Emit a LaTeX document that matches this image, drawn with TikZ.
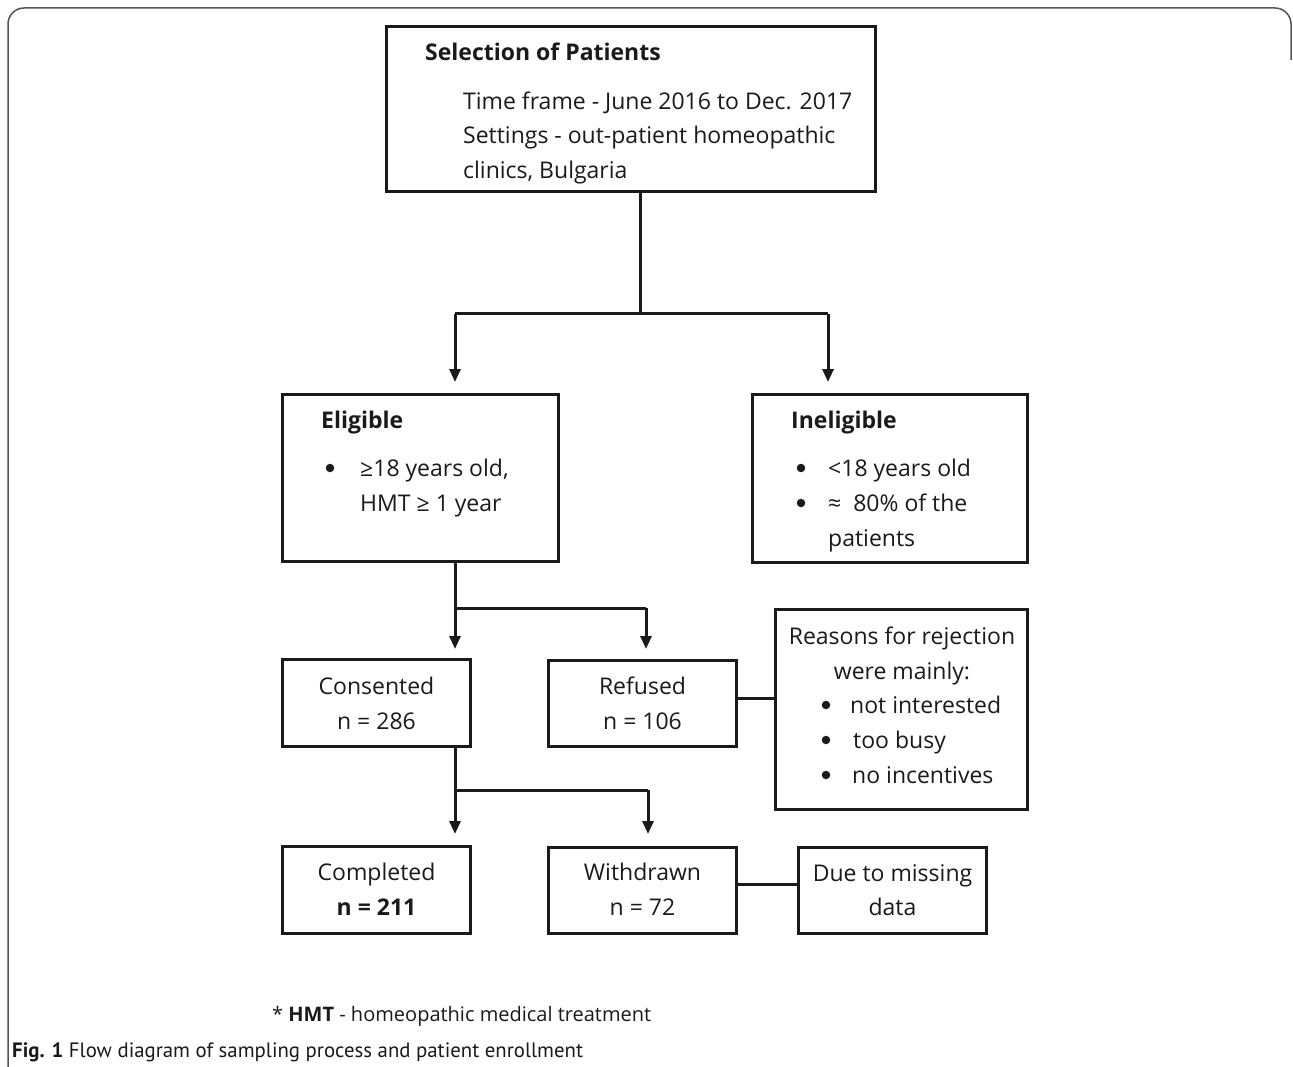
\documentclass[tikz,border=0pt]{standalone}
\usepackage{fontspec}
\setmainfont{Open Sans}
\newfontfamily\capfont{PT Sans}
\usetikzlibrary{arrows.meta}
\definecolor{ink}{HTML}{1A1A1A}
\definecolor{framec}{HTML}{555555}
\tikzset{
  box/.style={draw=ink, line width=3pt, inner sep=0pt, fill=white},
  ln/.style={draw=ink, line width=3pt},
  arr/.style={ln, -{Triangle[length=13pt,width=11pt]}},
  txt/.style={inner sep=0pt, font=\fontsize{23}{27}\selectfont, text=ink},
  bt/.style={txt, font=\fontsize{23}{27}\selectfont\bfseries},
  bul/.style={circle, fill=ink, inner sep=0pt, minimum size=8.5pt},
}
\begin{document}
\begin{tikzpicture}[x=1pt,y=-1pt]
\useasboundingbox (0,0) rectangle (1293,1067);
% outer frame
\draw[framec, line width=1.5pt, rounded corners=16pt] (8,1075) -- (8,8) -- (1291,8) -- (1291,60);

% boxes
\node[box, minimum width=489, minimum height=165] (top) at (631,109) {};
\node[box, minimum width=276, minimum height=167] (elig) at (420.5,478) {};
\node[box, minimum width=275, minimum height=168] (inel) at (890,478.5) {};
\node[box, minimum width=188, minimum height=87] (cons) at (376.5,703) {};
\node[box, minimum width=188, minimum height=86] (ref) at (642.5,703.5) {};
\node[box, minimum width=252, minimum height=200] (reas) at (901.5,709.5) {};
\node[box, minimum width=188, minimum height=87] (comp) at (376.5,890) {};
\node[box, minimum width=188, minimum height=86] (with) at (642.5,890.5) {};
\node[box, minimum width=188, minimum height=86] (due) at (892.5,890.5) {};

% texts: top
\node[bt, anchor=base west] (t1) at (425,61) {Selection of Patients};
\node[txt, anchor=base west] (t2) at (463,110) {Time frame - June 2016 to Dec. 2017};
\node[txt, anchor=base west] (t3) at (463,144) {Settings - out-patient homeopathic};
\node[txt, anchor=base west] (t4) at (463,179) {clinics, Bulgaria};
% eligible
\node[bt, anchor=base west] (e1) at (321,428) {Eligible};
\node[bul] (eb1) at (330,468) {};
\node[txt, anchor=base west] (e2) at (360,476) {≥18 years old,};
\node[txt, anchor=base west] (e3) at (360,511) {HMT ≥ 1 year};
% ineligible
\node[bt, anchor=base west] (i1) at (791,428) {Ineligible};
\node[bul] (ib1) at (801,468) {};
\node[bul] (ib2) at (801,503) {};
\node[txt, anchor=base west] (i2) at (828,476) {<18 years old};
\node[txt, anchor=base west] (i3) at (828,511) {≈\ \ 80\% of the};
\node[txt, anchor=base west] (i4) at (828,546) {patients};
% consented / refused
\node[txt, anchor=base] (c1) at (376.5,694) {Consented};
\node[txt, anchor=base] (c2) at (376.5,729) {n = 286};
\node[txt, anchor=base] (r1) at (642.5,694) {Refused};
\node[txt, anchor=base] (r2) at (642.5,729) {n = 106};
% reasons
\node[txt, anchor=base] (s1) at (902,644) {Reasons for rejection};
\node[txt, anchor=base] (s2) at (902,679) {were mainly:};
\node[bul] (sb1) at (826,705) {};
\node[bul] (sb2) at (826,740) {};
\node[bul] (sb3) at (826,775) {};
\node[txt, anchor=base west] (s3) at (850,713) {not interested};
\node[txt, anchor=base west] (s4) at (853,748) {too busy};
\node[txt, anchor=base west] (s5) at (852,783) {no incentives};
% completed / withdrawn / due
\node[txt, anchor=base] (m1) at (376.5,880) {Completed};
\node[bt, anchor=base] (m2) at (376.5,915) {n = 211};
\node[txt, anchor=base] (w1) at (642.5,880) {Withdrawn};
\node[txt, anchor=base] (w2) at (642.5,915) {n = 72};
\node[txt, anchor=base] (d1) at (892.5,881) {Due to missing};
\node[txt, anchor=base] (d2) at (892.5,915) {data};

% footnote and caption
\node[inner sep=0pt, anchor=base west, text=ink, font=\fontsize{20}{24}\selectfont] (fn) at (272,1021) {* \textbf{HMT} - homeopathic medical treatment};
\node[inner sep=0pt, anchor=base west, text=ink, font=\capfont\fontsize{20.8}{24}\selectfont] (cap) at (12,1057) {\textbf{Fig. 1} Flow diagram of sampling process and patient enrollment};

% connectors
\coordinate (j1) at (640,314);
\coordinate (a1) at (455,382);
\coordinate (a2) at (828,382);
\draw[ln] (top.south -| j1) -- (j1);
\draw[ln] (a1 |- j1) -- (a2 |- j1);
\draw[arr] (a1 |- j1) -- (a1);
\draw[arr] (a2 |- j1) -- (a2);

\coordinate (j2) at (455,608);
\coordinate (a3) at (455,649);
\coordinate (a4) at (646,649);
\draw[ln] (elig.south -| j2) -- (j2) -- (a4 |- j2);
\draw[arr] (j2) -- (a3);
\draw[arr] (a4 |- j2) -- (a4);

\coordinate (j3) at (455,790);
\coordinate (a5) at (455,834);
\coordinate (a6) at (648,834);
\draw[ln] (cons.south -| j3) -- (j3) -- (a6 |- j3);
\draw[arr] (j3) -- (a5);
\draw[arr] (a6 |- j3) -- (a6);

\draw[ln] (ref.east |- 0,698) -- (reas.west |- 0,698);
\draw[ln] (with.east |- 0,884) -- (due.west |- 0,884);
\end{tikzpicture}
\end{document}
